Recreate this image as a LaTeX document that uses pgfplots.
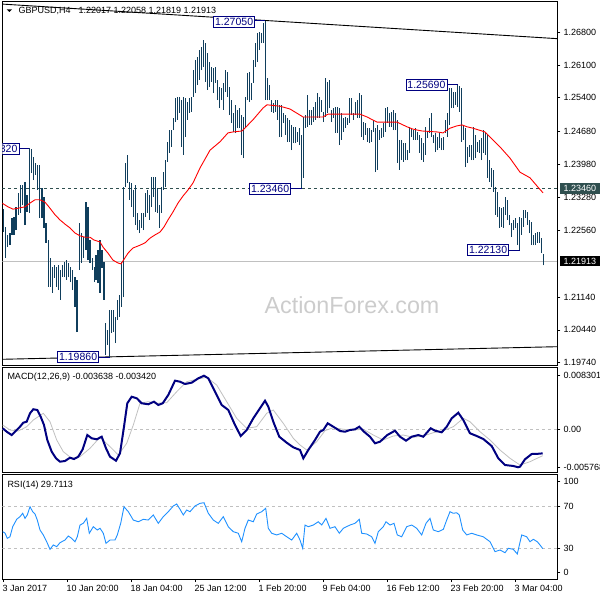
\documentclass[border=0pt]{standalone}
\usepackage{fontspec}
\setmainfont{Liberation Sans}
\usepackage{pgfplots}
\usepackage{pgfplotstable}
\pgfplotsset{compat=1.18}
\definecolor{barcol}{RGB}{16,62,92}
\definecolor{navybox}{RGB}{0,0,128}
\definecolor{dslate}{RGB}{47,79,79}
\definecolor{silv}{RGB}{192,192,192}
\definecolor{dodger}{RGB}{30,144,255}
\newcommand{\fs}{\fontsize{9}{10}\selectfont}
\newcommand{\fb}{\fontsize{10.5}{11}\selectfont}
\tikzset{pbox/.style={draw=navybox, text=navybox, fill=white, font=\fb, inner xsep=1.5pt, inner ysep=0pt, minimum height=11pt, line width=0.8pt}}

\pgfplotstableread{
x lo hi
3.3 1.2253 1.2302
5.7 1.2198 1.2264
7.7 1.2221 1.2247
10 1.2225 1.2251
12 1.2247 1.2283
14 1.2247 1.2285
16 1.2257 1.2307
18.3 1.2290 1.2337
20.3 1.2294 1.2354
22.7 1.2311 1.2354
25 1.2268 1.2360
27 1.2296 1.2332
29.3 1.2294 1.2432
31.7 1.2379 1.2431
33.7 1.2364 1.2413
35.7 1.2375 1.2401
37.7 1.2343 1.2396
39.7 1.2283 1.2396
42 1.2283 1.2347
44 1.2262 1.2328
46 1.2230 1.2272
48.3 1.2136 1.2236
50.3 1.2136 1.2198
52.3 1.2123 1.2178
54.3 1.2155 1.2183
56.3 1.2136 1.2178
58.3 1.2129 1.2183
60.7 1.2108 1.2172
62.7 1.2157 1.2183
64.7 1.2157 1.2189
66.7 1.2151 1.2193
68.7 1.2157 1.2187
70.7 1.2146 1.2178
72.7 1.2129 1.2172
75 1.2093 1.2157
77 1.2039 1.2151
79.3 1.2172 1.2272
81.3 1.2187 1.2251
83.3 1.2198 1.2242
86 1.2215 1.2317
88 1.2193 1.2307
90 1.2187 1.2236
92.3 1.2172 1.2198
94.3 1.2146 1.2178
96 1.2151 1.2204
98 1.2144 1.2215
100 1.2123 1.2236
102 1.2176 1.2215
104 1.2108 1.2189
105.7 1.1990 1.2059
107.7 1.2012 1.2044
109.7 1.1986 1.2087
111.7 1.2037 1.2087
113.7 1.2039 1.2087
115.7 1.2016 1.2072
117.7 1.2065 1.2108
119.7 1.2072 1.2119
121.7 1.2093 1.2189
123.7 1.2114 1.2349
125.7 1.2349 1.2401
127.7 1.2358 1.2418
129.7 1.2322 1.2360
131.7 1.2307 1.2358
133.7 1.2285 1.2343
135.7 1.2268 1.2354
137.7 1.2257 1.2294
139.7 1.2251 1.2279
141.7 1.2262 1.2294
143.7 1.2257 1.2294
145.7 1.2285 1.2337
147.7 1.2294 1.2343
149.7 1.2279 1.2332
151.7 1.2307 1.2371
153.7 1.2328 1.2371
155.7 1.2296 1.2371
157.7 1.2294 1.2347
159.7 1.2262 1.2311
161.7 1.2294 1.2349
163.7 1.2343 1.2381
165.7 1.2349 1.2407
167.7 1.2403 1.2446
169.7 1.2422 1.2471
171.7 1.2435 1.2471
173.7 1.2471 1.2497
175.7 1.2488 1.2540
177.7 1.2493 1.2542
179.7 1.2508 1.2542
181.7 1.2435 1.2535
183.7 1.2418 1.2542
185.7 1.2456 1.2540
187.7 1.2493 1.2531
189.3 1.2508 1.2540
191.3 1.2510 1.2542
193.3 1.2542 1.2599
195.3 1.2550 1.2621
197.3 1.2567 1.2627
199.3 1.2578 1.2642
201.3 1.2599 1.2649
203.3 1.2606 1.2664
205.3 1.2574 1.2657
207.3 1.2557 1.2636
209.3 1.2563 1.2617
211.3 1.2574 1.2606
213.3 1.2550 1.2604
215.3 1.2572 1.2606
217.3 1.2535 1.2578
219.3 1.2518 1.2563
221.3 1.2535 1.2561
223.3 1.2514 1.2572
225.3 1.2552 1.2599
227.3 1.2542 1.2595
229.3 1.2503 1.2563
231.3 1.2486 1.2535
233.3 1.2467 1.2508
235.3 1.2465 1.2525
237.3 1.2475 1.2514
239.3 1.2475 1.2518
241.3 1.2418 1.2503
243.3 1.2411 1.2499
245.3 1.2475 1.2542
247.3 1.2535 1.2593
249.3 1.2531 1.2595
251.3 1.2535 1.2572
253.3 1.2572 1.2621
255.3 1.2606 1.2657
257.3 1.2617 1.2678
259.3 1.2642 1.2681
261.3 1.2657 1.2678
263.3 1.2657 1.2700
265.3 1.2535 1.2705
267.3 1.2535 1.2582
269.3 1.2535 1.2567
271.3 1.2510 1.2535
273.3 1.2508 1.2529
275.3 1.2510 1.2535
277.3 1.2493 1.2535
279.3 1.2456 1.2525
281.5 1.2456 1.2525
283.5 1.2486 1.2508
285.5 1.2461 1.2503
287.5 1.2446 1.2497
289.5 1.2446 1.2493
291.5 1.2428 1.2482
293.5 1.2443 1.2478
295.5 1.2443 1.2478
297.5 1.2446 1.2467
299.5 1.2439 1.2475
301.5 1.2346 1.2461
303.5 1.2369 1.2499
305.5 1.2475 1.2503
307.5 1.2478 1.2546
309.5 1.2482 1.2514
311.5 1.2482 1.2514
313.5 1.2488 1.2520
315.5 1.2493 1.2531
317.5 1.2497 1.2550
319.5 1.2497 1.2542
321.5 1.2510 1.2535
323.5 1.2488 1.2510
325.5 1.2499 1.2582
327.5 1.2508 1.2574
329.5 1.2518 1.2578
331.5 1.2488 1.2514
333.5 1.2497 1.2518
335.5 1.2465 1.2520
337.5 1.2465 1.2520
339.5 1.2439 1.2518
341.5 1.2450 1.2508
343.5 1.2467 1.2497
345.5 1.2475 1.2499
347.5 1.2482 1.2497
349.5 1.2486 1.2540
351.5 1.2503 1.2540
353.5 1.2493 1.2508
355.5 1.2503 1.2531
357.5 1.2497 1.2535
359.5 1.2497 1.2550
361.5 1.2456 1.2546
363.5 1.2450 1.2488
365.5 1.2461 1.2486
367.5 1.2446 1.2475
369.5 1.2443 1.2475
371.5 1.2446 1.2471
373.5 1.2467 1.2493
375.5 1.2381 1.2475
377.5 1.2386 1.2482
379.5 1.2450 1.2471
381.5 1.2454 1.2475
383.5 1.2456 1.2486
385.5 1.2467 1.2518
387.5 1.2486 1.2520
389.5 1.2478 1.2508
391.5 1.2478 1.2510
393.5 1.2471 1.2514
395.5 1.2471 1.2508
397.5 1.2401 1.2493
399.5 1.2386 1.2450
401.5 1.2407 1.2450
403.5 1.2403 1.2443
405.5 1.2407 1.2443
407.5 1.2407 1.2428
409.5 1.2422 1.2478
411.5 1.2456 1.2475
413.5 1.2450 1.2471
415.5 1.2450 1.2475
417.5 1.2450 1.2467
419.5 1.2422 1.2461
421.5 1.2407 1.2454
423.5 1.2403 1.2443
425.5 1.2418 1.2478
427.5 1.2454 1.2467
429.5 1.2465 1.2497
431.5 1.2456 1.2508
433.5 1.2443 1.2461
435.5 1.2424 1.2465
437.5 1.2428 1.2456
439.5 1.2433 1.2465
441.5 1.2428 1.2454
443.5 1.2428 1.2456
445.5 1.2465 1.2493
447.5 1.2456 1.2508
449.5 1.2482 1.2561
451.5 1.2518 1.2561
453.5 1.2518 1.2552
455.5 1.2525 1.2552
457.5 1.2520 1.2569
459.5 1.2510 1.2565
461.5 1.2446 1.2561
463.5 1.2450 1.2482
465.5 1.2392 1.2475
467.5 1.2401 1.2435
469.5 1.2413 1.2439
471.5 1.2407 1.2439
473.5 1.2407 1.2478
475.5 1.2411 1.2461
477.5 1.2424 1.2446
479.5 1.2422 1.2450
481.5 1.2407 1.2454
483.5 1.2422 1.2471
485.5 1.2418 1.2467
487.5 1.2369 1.2461
489.5 1.2360 1.2407
491.5 1.2349 1.2390
493.5 1.2339 1.2386
495.5 1.2290 1.2349
497.5 1.2285 1.2339
499.5 1.2262 1.2307
501.5 1.2264 1.2304
503.5 1.2262 1.2307
505.5 1.2290 1.2328
507.5 1.2279 1.2322
509.5 1.2268 1.2290
511.5 1.2242 1.2272
513.5 1.2257 1.2279
515.5 1.2262 1.2283
517.5 1.2225 1.2272
519.5 1.2213 1.2285
521.5 1.2247 1.2283
523.5 1.2264 1.2300
525.5 1.2283 1.2300
527.5 1.2268 1.2296
529.5 1.2251 1.2279
531.5 1.2225 1.2275
533.5 1.2225 1.2247
535.5 1.2225 1.2251
537.5 1.2230 1.2253
539.5 1.2230 1.2253
541.5 1.2208 1.2240
543.5 1.2182 1.2206
}\bars

\pgfplotstableread{
x y
2 1.2315
8 1.2307
13 1.2302
18 1.2304
25 1.2307
30 1.2315
35 1.2322
40 1.2322
45 1.2317
50 1.2304
55 1.2290
60 1.2279
65 1.2270
70 1.2262
75 1.2251
80 1.2245
85 1.2242
90 1.2242
94 1.2236
100 1.2232
103 1.2221
108 1.2208
113 1.2193
118 1.2187
121 1.2185
125 1.2198
128 1.2208
133 1.2219
140 1.2225
145 1.2230
150 1.2240
155 1.2247
160 1.2253
164 1.2264
168 1.2279
173 1.2296
178 1.2315
183 1.2330
188 1.2343
193 1.2358
200 1.2390
210 1.2428
220 1.2446
228 1.2465
233 1.2467
242 1.2469
253 1.2493
263 1.2518
267 1.2525
280 1.2522
290 1.2516
300 1.2503
303 1.2499
313 1.2499
323 1.2499
328 1.2505
337 1.2505
360 1.2505
367 1.2499
377 1.2488
397 1.2488
407 1.2478
413 1.2473
422 1.2469
437 1.2467
443 1.2465
450 1.2475
457 1.2480
462 1.2482
467 1.2478
473 1.2475
485 1.2467
490 1.2456
500 1.2435
510 1.2411
520 1.2381
530 1.2369
538 1.2349
543 1.2337
}\ma

\pgfplotstableread{
x y
2.7 0.00022
6.7 -0.00031
11.7 -0.00082
15 -0.00031
20 0.00046
23.3 0.00108
26.7 0.00123
30 0.00252
33.3 0.00314
37.3 0.00303
40.7 0.00200
44 0.00072
47.3 -0.00158
51.7 -0.00338
56 -0.00440
60 -0.00492
65 -0.00481
70 -0.00431
74 -0.00451
78.3 -0.00415
82.7 -0.00301
87.3 -0.00082
91.7 -0.00132
96.7 -0.00148
101.7 -0.00108
106 -0.00286
110 -0.00415
116 -0.00477
120 -0.00363
124 0.00046
127.3 0.00406
131.7 0.00507
136.7 0.00483
141.7 0.00406
148.3 0.00391
154 0.00431
158.3 0.00380
162.7 0.00406
168.3 0.00534
175 0.00754
180 0.00738
185 0.00703
191.7 0.00723
198.3 0.00790
204 0.00830
208.3 0.00790
215 0.00584
221.7 0.00380
228.3 0.00303
235 0.00072
240.7 -0.00097
246.7 -0.00005
253.3 0.00175
260 0.00329
265 0.00446
268.3 0.00354
273.3 0.00123
279.3 -0.00108
286.7 -0.00200
293.3 -0.00271
300 -0.00312
303.3 -0.00440
308.3 -0.00312
315 -0.00158
320 -0.00031
323.3 -0.00005
327.7 0.00098
333.3 0.00046
340 -0.00020
345 -0.00031
350 -0.00005
355 0.00006
359.3 0.00046
364 -0.00031
370 -0.00108
375 -0.00209
380 -0.00185
387.3 -0.00082
395 -0.00015
400 -0.00108
406 -0.00169
411.7 -0.00108
418.3 -0.00082
423.3 -0.00108
430.7 0.00022
435 -0.00015
441.7 -0.00040
446.7 0.00046
451.7 0.00175
458.3 0.00261
463.3 0.00149
470 -0.00055
476.7 -0.00097
483.3 -0.00143
491.7 -0.00251
498.3 -0.00440
505 -0.00543
513.3 -0.00558
518 -0.00577
520 -0.00569
525 -0.00455
531.7 -0.00374
538.3 -0.00370
542.7 -0.00364
}\macd

\pgfplotstableread{
x y
2.7 0.00072
10 -0.00005
18.3 -0.00020
26.7 0.00046
33.3 0.00149
43.3 0.00252
50 0.00123
56.7 -0.00158
63.3 -0.00338
71.7 -0.00440
80 -0.00415
90 -0.00286
100 -0.00117
110 -0.00261
118.3 -0.00389
126.7 -0.00209
133.3 0.00072
140 0.00406
148.3 0.00431
156.7 0.00406
166.7 0.00415
176.7 0.00584
186.7 0.00738
196.7 0.00775
206.7 0.00806
216.7 0.00687
226.7 0.00431
236.7 0.00175
246.7 0.00022
256.7 0.00046
266.7 0.00252
273.3 0.00303
283.3 0.00098
293.3 -0.00132
300 -0.00235
306.7 -0.00312
316.7 -0.00185
325 -0.00015
333.3 0.00031
343.3 0.00006
353.3 -0.00005
363.3 0.00006
373.3 -0.00082
383.3 -0.00158
393.3 -0.00097
403.3 -0.00082
413.3 -0.00117
423.3 -0.00097
433.3 -0.00046
443.3 -0.00015
453.3 0.00046
463.3 0.00175
470 0.00123
480 -0.00031
490 -0.00158
500 -0.00312
510 -0.00440
520 -0.00543
530 -0.00492
538.3 -0.00431
542.7 -0.00400
}\signal

\pgfplotstableread{
x y
2.7 45.7
5 44.4
7.3 39.4
10 40.9
12.7 50.4
16.7 57.4
20 59.9
22.7 63.1
25 58.3
27.3 61.5
30 69.3
32.7 64.6
35 62.4
37.3 56.7
40 47.3
43.3 42.6
46.7 36.2
50 29.0
53.3 33.1
56.7 31.5
60 35.3
65 37.8
68.3 41.6
71.7 39.4
75 36.2
77.3 40.9
80 52.0
83.3 53.6
86.7 58.3
89.3 44.2
93.3 50.4
97.3 47.3
100 48.9
103.3 44.2
106 34.7
110 37.8
115 37.8
117.3 42.6
120.7 53.6
124 69.3
128.3 64.6
133.3 56.7
138.3 55.1
143.3 57.4
148.3 56.7
153.3 61.5
158.3 53.6
163.3 59.9
168.3 64.6
173.3 70.0
176.7 71.9
180 66.9
183.3 61.5
186.7 66.2
190 64.6
195 70.0
200 72.5
204 73.1
208.3 63.1
213.3 56.7
218.3 53.6
223.3 59.9
228.3 50.4
233.3 45.7
238.3 44.2
241.7 36.2
245 48.9
248.3 56.7
253.3 55.1
256.7 62.4
261.7 64.6
265.7 67.8
268.3 48.9
271.7 44.2
276.7 42.6
281.7 44.2
286.7 40.9
291.7 37.8
296.7 44.2
300 37.8
302.7 30.0
305 52.0
308.3 50.4
313.3 52.0
318.3 55.1
321.7 52.0
326 58.3
330 48.9
335 50.4
339.3 44.2
343.3 48.9
350 52.0
355 53.6
359.3 57.4
361.7 44.2
366.7 43.5
371.7 40.9
375 34.7
378.3 45.7
383.3 50.4
386 55.1
390 52.0
394 53.6
397.3 42.6
401.7 40.9
406.7 50.4
411.7 52.0
416.7 48.9
421.7 42.6
426 53.6
430 58.3
433.3 47.3
438.3 45.7
443.3 47.9
446.7 56.7
450 64.6
453.3 63.1
456.7 63.6
459.3 61.5
462.7 47.3
466.7 42.6
471.7 44.2
476.7 42.6
483.3 40.9
490 36.2
495 26.8
500 28.4
505 25.8
508.3 30.0
513.3 29.0
517.3 24.6
521.7 42.6
526.7 40.9
530 36.2
533.3 38.5
537.3 36.2
540 33.1
542.7 29.7
}\rsi

\begin{document}
\begin{tikzpicture}[x=1pt,y=1pt]
\path[use as bounding box] (0,0) rectangle (600,600);
\pgfplotsset{
  panel/.style={
    scale only axis, width=555pt, xmin=2.3, xmax=557.3,
    axis line style={black, line width=0.8pt},
    tick style={black, line width=0.6pt},
    tick align=outside, major tick length=3pt,
    ytick pos=right, yticklabel pos=right, xtick pos=left,
    yticklabel style={font=\fs, anchor=west, inner sep=0pt, xshift=3pt},
    scaled y ticks=false, clip mode=individual,
  },
}
% ---------- main price panel ----------
\begin{axis}[panel, at={(2.3pt,235pt)}, anchor=south west, height=364pt,
  ymin=1.19690, ymax=1.27468, xtick=\empty,
  ytick={1.1974,1.2044,1.2114,1.2256,1.2328,1.2398,1.2468,1.2540,1.2610,1.2680},
  yticklabels={1.19740,1.20440,1.21140,1.22560,1.23280,1.23980,1.24680,1.25400,1.26100,1.26800}]
\node[text=gray!40, font=\fontsize{23.3}{24}\selectfont, anchor=base] at (axis cs:352,1.20795) {ActionForex.com};
\addplot[silv, line width=0.8pt] coordinates {(2.3,1.21913) (557.3,1.21913)};
\addplot[dslate, line width=0.8pt, dash pattern=on 3pt off 3pt] coordinates {(2.3,1.2346) (557.3,1.2346)};
\addplot[black, line width=0.9pt] coordinates {(2.3,1.27402) (557.3,1.26663)};
\addplot[black, line width=0.9pt] coordinates {(2.3,1.19812) (557.3,1.20081)};
\addplot[draw=none, no markers, error bars/.cd, y dir=plus, y explicit, error mark=none,
  error bar style={draw=barcol, line width=1.1pt}]
  table[x=x, y=lo, y error plus expr=\thisrow{hi}-\thisrow{lo}] {\bars};
\addplot[red, line width=0.9pt] table[x=x, y=y] {\ma};
% price labels
\draw[navybox, line width=0.8pt] (axis cs:255,1.2705) -- (axis cs:265.3,1.2705);
\node[pbox, anchor=east] at (axis cs:255,1.2703) {1.27050};
\draw[navybox, line width=0.8pt] (axis cs:447.3,1.2569) -- (axis cs:458,1.2569);
\node[pbox, anchor=east] at (axis cs:447.3,1.2568) {1.25690};
\draw[navybox, line width=0.8pt] (axis cs:291,1.2346) -- (axis cs:301.5,1.2346);
\node[pbox, anchor=east] at (axis cs:291,1.2345) {1.23460};
\draw[navybox, line width=0.8pt] (axis cs:509,1.2213) -- (axis cs:519.5,1.2213);
\node[pbox, anchor=east] at (axis cs:509,1.2214) {1.22130};
\draw[navybox, line width=0.8pt] (axis cs:99,1.1986) -- (axis cs:109.7,1.1986);
\node[pbox, anchor=east] at (axis cs:99,1.1987) {1.19860};
\draw[navybox, line width=0.8pt] (axis cs:19.3,1.2432) -- (axis cs:29.3,1.2432);
\begin{scope}
\clip (axis cs:2.3,1.1969) rectangle (axis cs:557.3,1.27468);
\node[pbox, anchor=east] at (axis cs:19.3,1.2431) {1.24320};
\end{scope}
\node[fill=dslate, text=white, font=\fs, inner sep=0pt, minimum width=40.7pt, minimum height=10.7pt, anchor=west] at (axis cs:559.3,1.2346) {1.23460};
\node[fill=black, text=white, font=\fs, inner sep=0pt, minimum width=40.7pt, minimum height=9.5pt, anchor=west] at (axis cs:559.3,1.21913) {1.21913};
\end{axis}
% ---------- MACD panel ----------
\begin{axis}[panel, at={(2.3pt,128pt)}, anchor=south west, height=105pt,
  ymin=-0.006505, ymax=0.009642, xtick=\empty,
  ytick={-0.005768,0,0.008301}, yticklabels={-0.005768,0.00,0.008301}]
\addplot[silv, line width=0.8pt, dash pattern=on 3pt off 3pt] coordinates {(2.3,0) (557.3,0)};
\addplot[silv, line width=0.8pt] table[x=x, y=y] {\signal};
\addplot[navybox, line width=2pt] table[x=x, y=y] {\macd};
\end{axis}
% ---------- RSI panel ----------
\begin{axis}[panel, at={(2.3pt,21pt)}, anchor=south west, height=104.7pt,
  ymin=0.95, ymax=99.95,
  ytick={7.3,30,70,93.3}, yticklabels={0,30,70,100},
  xtick={3,67,131,195,259,323,387,451,515},
  xticklabels={3 Jan 2017,10 Jan 20:00,18 Jan 04:00,25 Jan 12:00,1 Feb 20:00,9 Feb 04:00,16 Feb 12:00,23 Feb 20:00,3 Mar 04:00},
  xticklabel style={font=\fs, anchor=north west, inner sep=0pt, yshift=-3pt, xshift=-0.5pt}]
\addplot[silv, line width=0.8pt, dash pattern=on 3pt off 3pt] coordinates {(2.3,70) (557.3,70)};
\addplot[silv, line width=0.8pt, dash pattern=on 3pt off 3pt] coordinates {(2.3,30) (557.3,30)};
\addplot[dodger, line width=0.9pt] table[x=x, y=y] {\rsi};
\end{axis}
% ---------- texts ----------
\fill[black] (6.7,590.7) -- (12,590.7) -- (9.35,588) -- cycle;
\node[anchor=base west, font=\fs, inner sep=0pt] at (18.3,586) {GBPUSD,H4};
\node[anchor=base west, font=\fs, inner sep=0pt] at (78.3,586) {1.22017 1.22058 1.21819 1.21913};
\node[anchor=base west, font=\fs, inner sep=0pt] at (7.3,220.7) {MACD(12,26,9) -0.003638 -0.003420};
\node[anchor=base west, font=\fs, inner sep=0pt] at (7.3,112.7) {RSI(14) 29.7113};
\end{tikzpicture}
\end{document}
